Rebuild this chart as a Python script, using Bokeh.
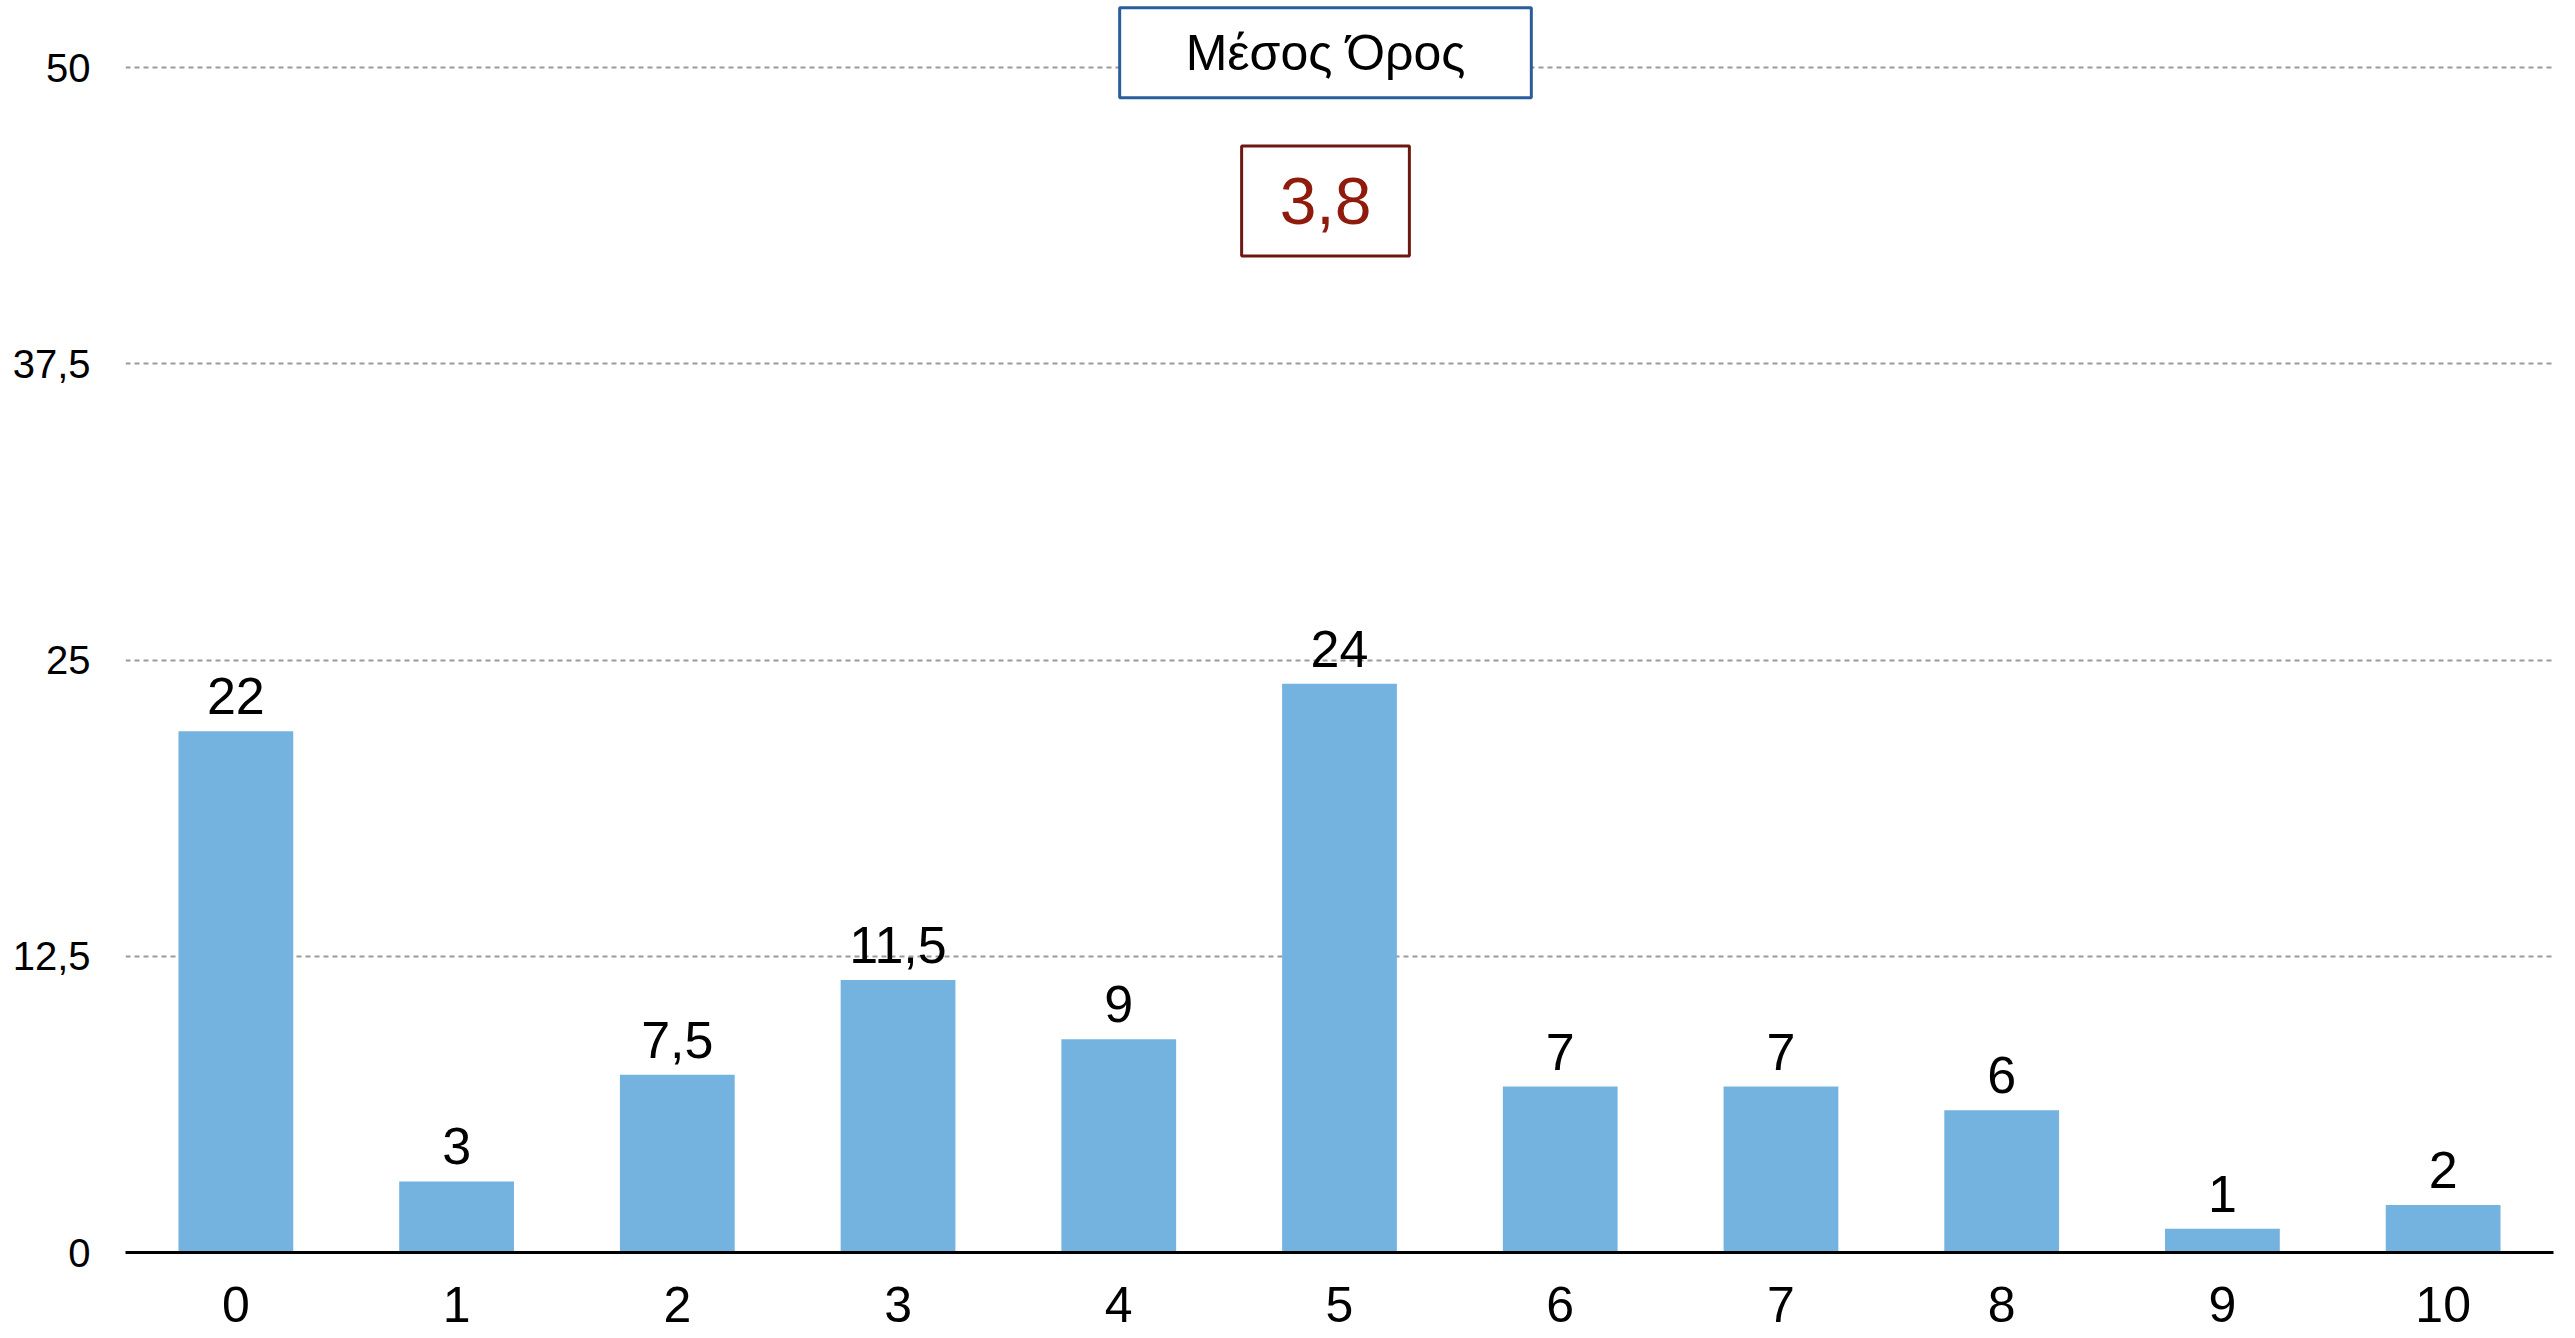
from bokeh.plotting import figure
from bokeh.models import ColumnDataSource, FactorRange, Range1d, FixedTicker, LabelSet, Label
from bokeh.core.properties import value
from bokeh.embed import file_html
from bokeh.resources import INLINE

categories = ["0", "1", "2", "3", "4", "5", "6", "7", "8", "9", "10"]
values = [22, 3, 7.5, 11.5, 9, 24, 7, 7, 6, 1, 2]
y_ticks = [0, 12.5, 25, 37.5, 50]
y_tick_labels = ["0", "12,5", "25", "37,5", "50"]
title_text = "Μέσος Όρος"
mean_text = "3,8"

FONT = "Liberation Sans"
BAR_COLOR = "#74b3e0"

labels = [f"{v:g}".replace(".", ",") for v in values]
src = ColumnDataSource(dict(cat=categories, val=values, lbl=labels))

p = figure(x_range=FactorRange(*categories, range_padding=0),
           y_range=Range1d(0, 52.83),
           width=2572, height=1336, output_backend="svg", toolbar_location=None,
           min_border_left=125, min_border_right=19, min_border_top=0, min_border_bottom=84)
p.outline_line_color = None
p.background_fill_color = "white"

p.vbar(x="cat", top="val", width=0.52, source=src, color=BAR_COLOR, line_color=None)

p.add_layout(LabelSet(x="cat", y="val", text="lbl", source=src, text_align="center",
                      text_baseline="alphabetic", y_offset=17,
                      text_font_size=value("52px"), text_font=value(FONT), text_color="black"))

# axes
p.xaxis.axis_line_color = "black"
p.xaxis.axis_line_width = 3
p.xaxis.major_tick_line_color = None
p.xaxis.minor_tick_line_color = None
p.xaxis.major_label_text_font_size = "50px"
p.xaxis.major_label_text_font = FONT
p.xaxis.major_label_text_color = "black"
p.xaxis.major_label_standoff = 28

p.yaxis.ticker = FixedTicker(ticks=y_ticks)
p.yaxis.major_label_overrides = {t: l for t, l in zip(y_ticks, y_tick_labels)}
p.yaxis.axis_line_color = None
p.yaxis.major_tick_line_color = None
p.yaxis.minor_tick_line_color = None
p.yaxis.major_label_text_font_size = "40px"
p.yaxis.major_label_text_font = FONT
p.yaxis.major_label_text_color = "black"
p.yaxis.major_label_standoff = 29

p.xgrid.grid_line_color = None
p.ygrid.ticker = FixedTicker(ticks=y_ticks[1:])
p.ygrid.grid_line_color = "#9a9a9a"
p.ygrid.grid_line_width = 2
p.ygrid.grid_line_dash = "5 4"

p.add_layout(Label(x=5.5, y=50.63, x_offset=-14, text=title_text, text_align="center",
                   text_baseline="middle", text_font=FONT, text_font_size="50px",
                   text_color="black", background_fill_color="white",
                   border_line_color="#2b5d9b", border_line_width=3,
                   padding=dict(left=66, right=66, top=17, bottom=17)))
p.add_layout(Label(x=5.5, y=44.37, x_offset=-14, text=mean_text, text_align="center",
                   text_baseline="middle", text_font=FONT, text_font_size="66px",
                   text_color="#8e1b0c", background_fill_color="white",
                   border_line_color="#6e1612", border_line_width=3,
                   padding=dict(left=38, right=38, top=32, bottom=32)))

open("out.html", "w").write(file_html(p, INLINE))
